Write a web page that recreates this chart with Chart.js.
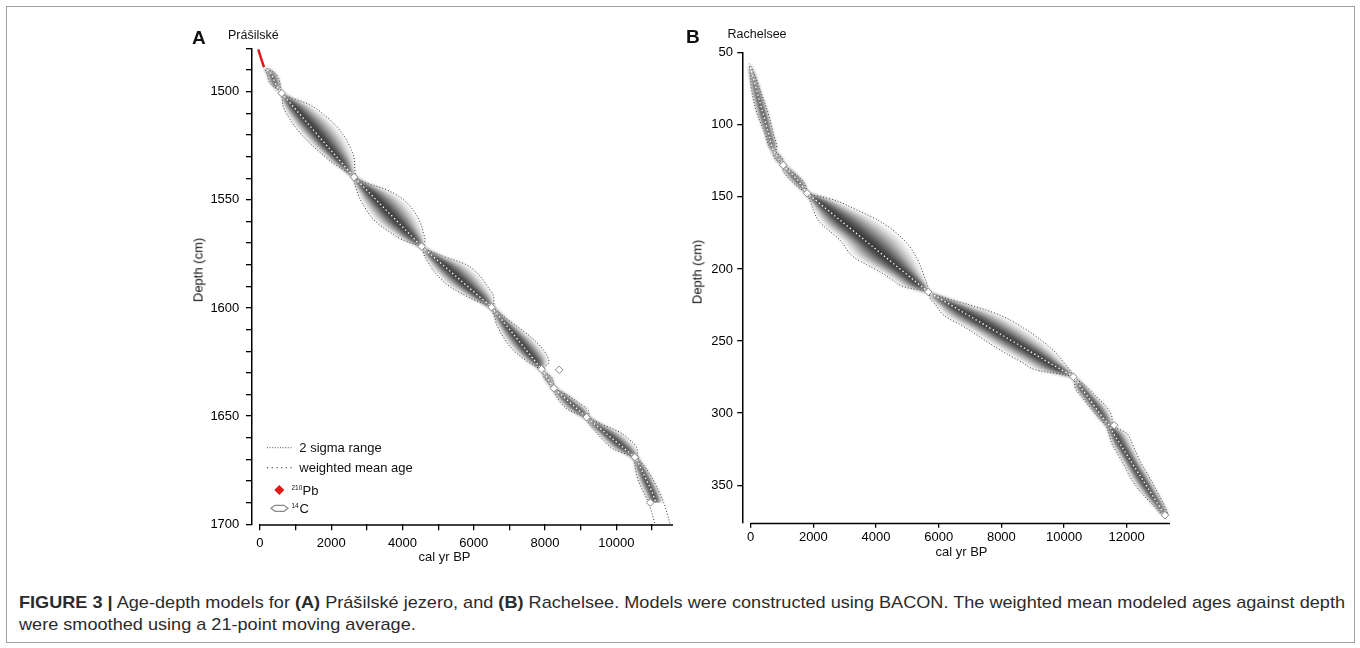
<!DOCTYPE html>
<html>
<head>
<meta charset="utf-8">
<script src="https://cdn.jsdelivr.net/npm/chart.js@4.4.1/dist/chart.umd.min.js"></script>
<style>
  body { margin: 0; background: #fff; font-family: "Liberation Sans", Arial, sans-serif; }
  #page { position: relative; width: 1360px; height: 648px; overflow: hidden; background: #fff; }
  #frame { position: absolute; left: 6px; top: 6px; width: 1347px; height: 635px; border: 1px solid #a0a0a0; }
  canvas { position: absolute; }
  .t { position: absolute; white-space: nowrap; color: #111; line-height: 1; }
  .rot { transform: translate(-50%, -50%) rotate(-90deg); }
  #caption { position: absolute; left: 19px; top: 592px; font-size: 17px; line-height: 22px; color: #2b2b2b; white-space: nowrap; transform-origin: 0 0; }
  svg { position: absolute; }
</style>
</head>
<body>
<div id="page">
  <div id="frame"></div>
  <canvas id="chartA" width="540" height="570" style="left:150px;top:20px;"></canvas>
  <canvas id="chartB" width="560" height="570" style="left:640px;top:20px;"></canvas>

  <div class="t" style="left:192px;top:28px;font-size:19px;font-weight:bold;">A</div>
  <div class="t" style="left:228px;top:28.7px;font-size:12.5px;">Prášilské</div>
  <div class="t" style="left:686px;top:27.2px;font-size:19px;font-weight:bold;">B</div>
  <div class="t" style="left:727.5px;top:27.7px;font-size:12.5px;">Rachelsee</div>

  <div class="t rot" style="left:197.5px;top:270px;font-size:13px;">Depth (cm)</div>
  <div class="t rot" style="left:697px;top:272px;font-size:13px;">Depth (cm)</div>
  <div class="t" style="left:418.5px;top:549.7px;font-size:13px;">cal yr BP</div>
  <div class="t" style="left:935.5px;top:545px;font-size:13px;">cal yr BP</div>

  <!-- legend of panel A -->
  <svg style="left:266px;top:440px;" width="30" height="80">
    <line x1="1" y1="7.7" x2="27" y2="7.7" stroke="#555" stroke-width="1" stroke-dasharray="1 1.6"/>
    <line x1="1" y1="27.7" x2="27" y2="27.7" stroke="#333" stroke-width="1" stroke-dasharray="1.2 3.5"/>
    <polygon points="13.3,45 18.3,50 13.3,55 8.3,50" fill="#e01818"/>
    <polygon points="5,68.3 9,65.3 18,65.3 22,68.3 18,71.3 9,71.3" fill="#fff" stroke="#888" stroke-width="1.2"/>
  </svg>
  <div class="t" style="left:299.3px;top:441.4px;font-size:13px;">2 sigma range</div>
  <div class="t" style="left:299.3px;top:461.4px;font-size:13px;">weighted mean age</div>
  <div class="t" style="left:291.5px;top:484.5px;font-size:6.5px;">210</div>
  <div class="t" style="left:302.5px;top:484.2px;font-size:13px;">Pb</div>
  <div class="t" style="left:291.5px;top:502.5px;font-size:6.5px;">14</div>
  <div class="t" style="left:299.5px;top:502.3px;font-size:13px;">C</div>

  <div id="caption"><span id="capLine1"><b>FIGURE 3 |</b> Age-depth models for <b>(A)</b> Prášilské jezero, and <b>(B)</b> Rachelsee. Models were constructed using BACON. The weighted mean modeled ages against depth</span><br>were smoothed using a 21-point moving average.</div>
</div>

<script>
// ---- Panel A: Prášilské jezero ----
const aDepth   = [1488.7, 1491.5, 1496.1, 1500.7, 1506, 1512, 1518, 1525, 1532, 1539.5,
                  1542, 1545, 1549, 1555, 1560, 1565, 1568.5, 1571.6,
                  1576, 1580, 1585, 1590, 1595, 1599.6,
                  1603, 1608, 1614, 1620, 1625, 1628.3,
                  1632.5, 1637.1,
                  1640, 1644, 1647.5, 1650.5,
                  1653.5, 1657, 1661, 1665, 1669,
                  1674, 1680, 1685, 1690];
const aAgeMin  = [110, 190, 280, 600, 640, 810, 1070, 1475, 1970, 2600,
                  2650, 2700, 2790, 3000, 3240, 3650, 4000, 4490,
                  4620, 4760, 4980, 5320, 5850, 6440,
                  6560, 6650, 6850, 7140, 7530, 7860,
                  7990, 8210,
                  8290, 8450, 8700, 9100,
                  9230, 9410, 9630, 9900, 10440,
                  10530, 10620, 10760, 10900];
const aAgeMean = [112, 300, 430, 609, 886, 1200, 1515, 1880, 2250, 2640,
                  2788, 2965, 3201, 3556, 3852, 4147, 4354, 4536,
                  4844, 5125, 5475, 5826, 6176, 6499,
                  6665, 6910, 7203, 7497, 7741, 7902,
                  8075, 8247,
                  8445, 8719, 8958, 9164,
                  9384, 9640, 9933, 10226, 10519,
                  10680, 10860, 11000, 11110];
const aAgeMax  = [120, 420, 560, 625, 1390, 1890, 2250, 2510, 2650, 2690,
                  2950, 3500, 3950, 4310, 4480, 4580, 4630, 4590,
                  5130, 5790, 6160, 6380, 6560, 6570,
                  6780, 7170, 7640, 7980, 8110, 7940,
                  8200, 8290,
                  8600, 8960, 9220, 9250,
                  9560, 10050, 10380, 10580, 10600,
                  10830, 11050, 11200, 11330];
// 2 sigma lines continue below the last date
const aTailDepth = [1700];
const aTailMin   = [11090];
const aTailMax   = [11510];
const aPbDepth = [1480.4, 1484.5, 1488.7];
const aPbAge   = [-48, 28, 112];
const aDateDepth = [1500.7, 1539.5, 1571.6, 1599.6, 1628.3, 1628.6, 1637.1, 1650.5, 1669, 1690];
const aDateAge   = [609, 2640, 4536, 6499, 7902, 8396, 8247, 9164, 10519, 10950];
const aXTicks  = [0, 1000, 2000, 3000, 4000, 5000, 6000, 7000, 8000, 9000, 10000, 11000];
const aXLabels = [0, 2000, 4000, 6000, 8000, 10000];
const aYTicks  = [1480, 1490, 1500, 1510, 1520, 1530, 1540, 1550, 1560, 1570, 1580, 1590,
                  1600, 1610, 1620, 1630, 1640, 1650, 1660, 1670, 1680, 1690, 1700];
const aYLabels = [1500, 1550, 1600, 1650, 1700];

// ---- Panel B: Rachelsee ----
const bDepth   = [57.5, 65, 76, 92, 106, 116, 118,
                  123, 128,
                  133, 138, 143, 147.5,
                  152, 159, 167, 180, 192, 197, 203, 208, 212.5, 215.9,
                  220, 225, 232, 241, 250, 258, 265, 270, 274.8,
                  282, 289, 296, 303, 308.4,
                  314, 320, 333, 345, 354, 362, 370.8];
const bAgeMin  = [-45, -20, 30, 200, 456, 616, 700,
                  760, 1000,
                  1060, 1250, 1500, 1770,
                  1880, 2000, 2180, 2850, 3300, 3700, 4200, 4550, 4900, 5640,
                  5720, 5910, 6160, 6880, 7510, 8100, 8680, 9100, 10250,
                  10350, 10580, 10830, 11100, 11330,
                  11430, 11500, 11840, 12130, 12420, 12760, 13150];
const bAgeMean = [-45, 50, 189, 390, 567, 693, 720,
                  880, 1040,
                  1265, 1480, 1660, 1800,
                  2054, 2450, 2902, 3637, 4315, 4597, 4936, 5218, 5473, 5668,
                  5990, 6383, 6933, 7640, 8348, 8977, 9527, 9920, 10296,
                  10535, 10768, 11000, 11233, 11440,
                  11574, 11748, 12125, 12473, 12734, 12966, 13220];
const bAgeMax  = [-40, 120, 300, 560, 720, 830, 800,
                  1000, 1090,
                  1350, 1620, 1760, 1850,
                  2640, 3380, 4130, 4900, 5290, 5400, 5500, 5590, 5645, 5700,
                  6180, 7000, 7950, 8710, 9300, 9730, 10000, 10180, 10330,
                  10730, 11050, 11370, 11530, 11560,
                  12000, 12150, 12420, 12740, 12960, 13160, 13330];
const bDateDepth = [128, 147.5, 215.9, 274.8, 308.4, 370.8];
const bDateAge   = [1040, 1800, 5668, 10296, 11600, 13220];
const bXTicks = [0, 2000, 4000, 6000, 8000, 10000, 12000];
const bYTicks = [50, 100, 150, 200, 250, 300, 350];

// nested bands (softened with a blur) give the grey density cloud
const bandLevels = [0.9, 0.72, 0.55, 0.4, 0.26, 0.13];
const bandAlpha  = [0.12, 0.18, 0.24, 0.28, 0.32, 0.38];
const BAND_COUNT = bandLevels.length * 2;

Chart.defaults.font.family = '"Liberation Sans", Arial, sans-serif';
Chart.defaults.font.size = 13;
Chart.defaults.color = '#000';

function pts(depths, ages) {
  return depths.map((d, i) => ({ x: ages[i], y: d }));
}

function cloudSets(depth, min, mean, max) {
  const sets = [];
  bandLevels.forEach((f, k) => {
    sets.push({
      data: depth.map((d, i) => ({ x: mean[i] + f * (max[i] - mean[i]), y: d })),
      borderColor: 'rgba(0,0,0,0)', borderWidth: 0, pointRadius: 0,
      fill: false, order: 10, cubicInterpolationMode: 'monotone'
    });
    sets.push({
      data: depth.map((d, i) => ({ x: mean[i] - f * (mean[i] - min[i]), y: d })),
      borderColor: 'rgba(0,0,0,0)', borderWidth: 0, pointRadius: 0,
      fill: '-1', backgroundColor: 'rgba(15,15,15,' + bandAlpha[k] + ')',
      order: 10, cubicInterpolationMode: 'monotone'
    });
  });
  return sets;
}

function sigmaLine(data) {
  return {
    data: data, borderColor: '#3a3a3a', borderWidth: 1, borderDash: [1, 2],
    pointRadius: 0, fill: false, order: 5, cubicInterpolationMode: 'monotone'
  };
}

function meanLine(data) {
  return {
    data: data, borderColor: '#ffffff', borderWidth: 1.3, borderDash: [1.4, 2.6],
    pointRadius: 0, fill: false, order: 3, cubicInterpolationMode: 'monotone'
  };
}

function dateSet(data) {
  return {
    data: data, showLine: false, pointStyle: 'rectRot', pointRadius: 3.8,
    pointBackgroundColor: '#fff', pointBorderColor: '#8a8a8a', pointBorderWidth: 1, order: 1
  };
}

// blur only the cloud bands (they are drawn first, the band with index 0 last)
const softCloud = {
  id: 'softCloud',
  beforeDatasetsDraw(chart) { chart.ctx.filter = 'blur(2px)'; },
  afterDatasetDraw(chart, args) { if (args.index === 0) chart.ctx.filter = 'none'; },
  afterDatasetsDraw(chart) { chart.ctx.filter = 'none'; }
};

// x axis line only runs from 0 to the end, like the R plots
const axisLine = {
  id: 'axisLine',
  afterDraw(chart) {
    const { ctx, chartArea, scales } = chart;
    ctx.save();
    ctx.strokeStyle = '#000';
    ctx.lineWidth = 1.5;
    ctx.beginPath();
    ctx.moveTo(scales.x.getPixelForValue(0), chartArea.bottom + 0.75);
    ctx.lineTo(chartArea.right, chartArea.bottom + 0.75);
    ctx.stroke();
    ctx.restore();
  }
};

function makeChart(id, datasets, opt) {
  return new Chart(document.getElementById(id), {
    type: 'line',
    data: { datasets: datasets },
    options: {
      responsive: false,
      animation: false,
      indexAxis: 'y',
      layout: { padding: { top: opt.padTop, right: opt.padRight, left: 0, bottom: 0 } },
      plugins: { legend: { display: false }, tooltip: { enabled: false } },
      scales: {
        x: {
          type: 'linear', position: 'bottom', min: opt.xMin, max: opt.xMax,
          afterBuildTicks: s => { s.ticks = opt.xTicks.map(v => ({ value: v })); },
          afterFit: s => { s.height = opt.xHeight; },
          grid: { drawOnChartArea: false, tickLength: opt.xTickLen, color: '#000', lineWidth: 1.3 },
          border: { display: false },
          ticks: {
            autoSkip: false, maxRotation: 0, padding: opt.xPad, color: '#000',
            callback: v => opt.xLabels.includes(v) ? String(v) : ''
          }
        },
        y: {
          type: 'linear', position: 'left', reverse: true, min: opt.yMin, max: opt.yMax,
          afterBuildTicks: s => { s.ticks = opt.yTicks.map(v => ({ value: v })); },
          afterFit: s => { s.width = opt.yWidth; },
          grid: { drawOnChartArea: false, tickLength: opt.yTickLen, color: '#000', lineWidth: 1.3 },
          border: { display: true, color: '#000', width: 1.5 },
          ticks: {
            autoSkip: false, padding: opt.yPad, color: '#000',
            callback: v => opt.yLabels.includes(v) ? String(v) : ''
          }
        }
      }
    },
    plugins: [softCloud, axisLine]
  });
}

const setsA = cloudSets(aDepth, aAgeMin, aAgeMean, aAgeMax).concat([
  sigmaLine(pts(aDepth.concat(aTailDepth), aAgeMin.concat(aTailMin))),
  sigmaLine(pts(aDepth.concat(aTailDepth), aAgeMax.concat(aTailMax))),
  meanLine(pts(aDepth, aAgeMean)),
  dateSet(pts(aDateDepth, aDateAge)),
  { data: pts(aPbDepth, aPbAge), borderColor: '#e01818', borderWidth: 2.5, pointRadius: 0, fill: false, order: 0 }
]);

const setsB = cloudSets(bDepth, bAgeMin, bAgeMean, bAgeMax).concat([
  sigmaLine(pts(bDepth, bAgeMin)),
  sigmaLine(pts(bDepth, bAgeMax)),
  meanLine(pts(bDepth, bAgeMean)),
  dateSet(pts(bDateDepth, bDateAge))
]);

makeChart('chartA', setsA, {
  padTop: 28.4, padRight: 17, xHeight: 65.7, yWidth: 102,
  xMin: -224, xMax: 11590, yMin: 1480, yMax: 1700,
  xTicks: aXTicks, xLabels: aXLabels, yTicks: aYTicks, yLabels: aYLabels,
  xTickLen: 6, xPad: 5, yTickLen: 6, yPad: 6.7
});

makeChart('chartB', setsB, {
  padTop: 32.7, padRight: 30, xHeight: 67.3, yWidth: 102.3,
  xMin: -268, xMax: 13382, yMin: 50, yMax: 376,
  xTicks: bXTicks, xLabels: bXTicks, yTicks: bYTicks, yLabels: bYTicks,
  xTickLen: 5, xPad: 1.6, yTickLen: 5, yPad: 4.3
});

// stretch the caption so its first line spans the same width as the figure caption
const cap = document.getElementById('caption');
const w1 = document.getElementById('capLine1').getBoundingClientRect().width;
cap.style.transform = 'scaleX(' + (1326 / w1) + ')';
</script>
</body>
</html>
